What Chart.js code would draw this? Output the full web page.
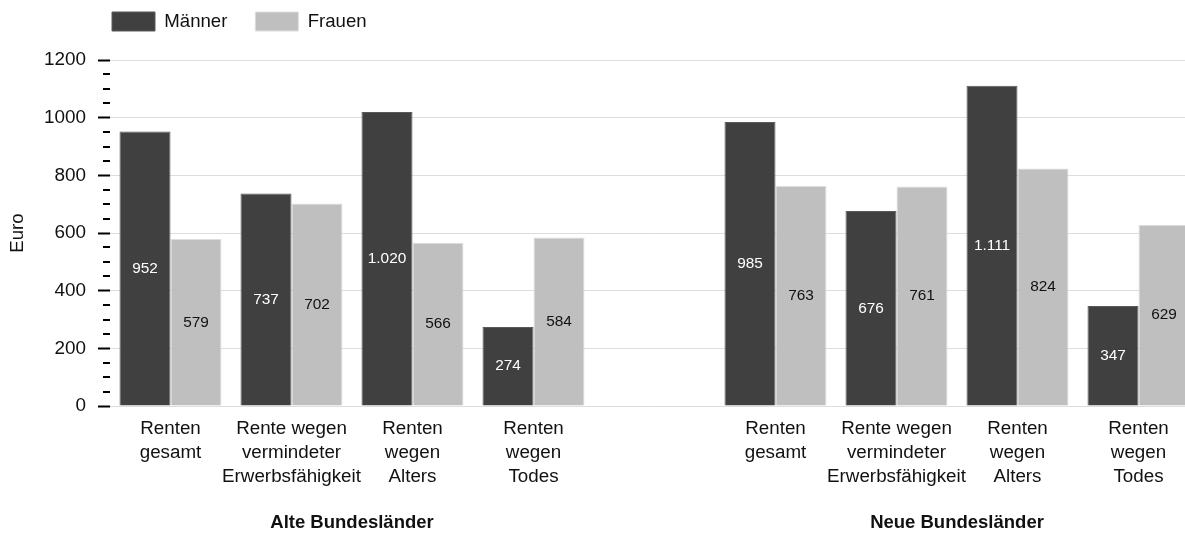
<!DOCTYPE html>
<html>
<head>
<meta charset="utf-8">
<script src="https://cdn.jsdelivr.net/npm/chart.js@4.4.1/dist/chart.umd.min.js"></script>
<style>
  html, body { margin: 0; padding: 0; background: #fff; overflow: hidden; }
  #wrap { position: relative; width: 1199px; height: 533px; }
</style>
</head>
<body>
<div id="wrap"><canvas id="rentenChart"></canvas></div>
<script>
// categories (one empty slot separates the two groups)
const kategorien = [
    ['Renten', 'gesamt'],
    ['Rente wegen', 'vermindeter', 'Erwerbsfähigkeit'],
    ['Renten', 'wegen', 'Alters'],
    ['Renten', 'wegen', 'Todes'],
    '',
    ['Renten', 'gesamt'],
    ['Rente wegen', 'vermindeter', 'Erwerbsfähigkeit'],
    ['Renten', 'wegen', 'Alters'],
    ['Renten', 'wegen', 'Todes']
]
const gruppen = ['Alte Bundesländer', 'Neue Bundesländer']
const gruppen_mitte = [1.5, 6.5]

const maenner = [952, 737, 1020, 274, null, 985, 676, 1111, 347]
const frauen = [579, 702, 566, 584, null, 763, 761, 824, 629]

const y_ticks_major = [0, 200, 400, 600, 800, 1000, 1200]

const FONT = "'Liberation Sans', Arial, sans-serif"

function format_de(n){
    return String(n).replace(/\B(?=(\d{3})+(?!\d))/g, '.')
}

// values written in the middle of every bar
const barLabels = {
    id: 'barLabels',
    afterDatasetsDraw(chart){
        const ctx = chart.ctx
        ctx.save()
        ctx.font = '15.4px ' + FONT
        ctx.textAlign = 'center'
        ctx.textBaseline = 'middle'
        chart.data.datasets.forEach((ds, i) => {
            const meta = chart.getDatasetMeta(i)
            ctx.fillStyle = i == 0 ? '#ffffff' : '#111111'
            meta.data.forEach((bar, j) => {
                const v = ds.data[j]
                if (v == null) return
                ctx.fillText(format_de(v), bar.x, (bar.y + bar.base) / 2)
            })
        })
        ctx.restore()
    }
}

// short minor tick marks on the y axis
const minorTicks = {
    id: 'minorTicks',
    afterDraw(chart){
        const y = chart.scales.y
        const ctx = chart.ctx
        ctx.save()
        ctx.strokeStyle = '#000'
        ctx.lineWidth = 2
        for (let v = 0; v <= 1200; v += 50) {
            if (v % 200 == 0) continue
            const py = Math.round(y.getPixelForValue(v))
            ctx.beginPath()
            ctx.moveTo(y.right - 7, py)
            ctx.lineTo(y.right, py)
            ctx.stroke()
        }
        ctx.restore()
    }
}

// legend lined up with the plot area
const legendShift = {
    id: 'legendShift',
    afterLayout(chart){
        const lg = chart.legend
        const pad = lg.options.labels.padding
        lg.left = chart.chartArea.left + 2 - pad
        lg.top = 12 - pad
    }
}

const ctx = document.getElementById('rentenChart').getContext('2d')
const myChart = new Chart(ctx, {
    type: 'bar',
    data: {
        labels: kategorien,
        datasets: [{
            label: 'Männer',
            data: maenner,
            backgroundColor: '#404040',
            borderColor: '#5a5a5a',
            borderWidth: 1,
            categoryPercentage: 0.843,
            barPercentage: 1
        }, {
            label: 'Frauen',
            data: frauen,
            backgroundColor: '#bfbfbf',
            borderColor: '#dedede',
            borderWidth: 1,
            categoryPercentage: 0.843,
            barPercentage: 1
        }]
    },
    options: {
        responsive: true,
        maintainAspectRatio: false,
        animation: false,
        layout: { padding: { top: 3, left: 0, right: 0, bottom: 0 } },
        plugins: {
            tooltip: { enabled: false },
            legend: {
                position: 'top',
                align: 'start',
                labels: {
                    boxWidth: 43,
                    boxHeight: 19,
                    padding: 28,
                    color: '#111',
                    font: { family: FONT, size: 18.6 }
                }
            }
        },
        scales: {
            x: {
                weight: 0,
                grid: { display: false, drawTicks: false },
                border: { display: false },
                afterFit(scale){
                    scale.height = 83
                },
                ticks: {
                    color: '#111',
                    padding: 11,
                    maxRotation: 0,
                    autoSkip: false,
                    font: { family: FONT, size: 18.8, lineHeight: 1.28 }
                }
            },
            x2: {
                type: 'linear',
                position: 'bottom',
                weight: 1,
                offset: false,
                min: -0.5,
                max: 8.5,
                grid: { display: false, drawTicks: false },
                border: { display: false },
                afterBuildTicks(scale){
                    scale.ticks = gruppen_mitte.map(v => ({ value: v }))
                },
                afterFit(scale){
                    scale.height = 44
                },
                ticks: {
                    color: '#111',
                    padding: 24,
                    maxRotation: 0,
                    autoSkip: false,
                    font: { family: FONT, size: 18.5, weight: 'bold', lineHeight: 1.1 },
                    callback: (v) => gruppen[gruppen_mitte.indexOf(v)]
                }
            },
            y: {
                min: 0,
                max: 1200,
                afterFit(scale){
                    scale.width = 110
                },
                border: { display: false },
                grid: {
                    color: (c) => (c.tick && c.tick.value % 200 == 0) ? '#dddddd' : 'rgba(0,0,0,0)',
                    tickColor: (c) => (c.tick && c.tick.value % 200 == 0) ? '#000' : 'rgba(0,0,0,0)',
                    tickLength: 12,
                    tickWidth: 2,
                    lineWidth: 1
                },
                ticks: {
                    stepSize: 50,
                    autoSkip: false,
                    padding: 12,
                    color: '#111',
                    font: { family: FONT, size: 18.9 },
                    callback: (v) => y_ticks_major.includes(v) ? String(v) : ''
                },
                title: {
                    display: true,
                    text: 'Euro',
                    color: '#111',
                    padding: { top: 7 },
                    font: { family: FONT, size: 18.6 }
                }
            }
        }
    },
    plugins: [barLabels, minorTicks, legendShift]
})
</script>
</body>
</html>
